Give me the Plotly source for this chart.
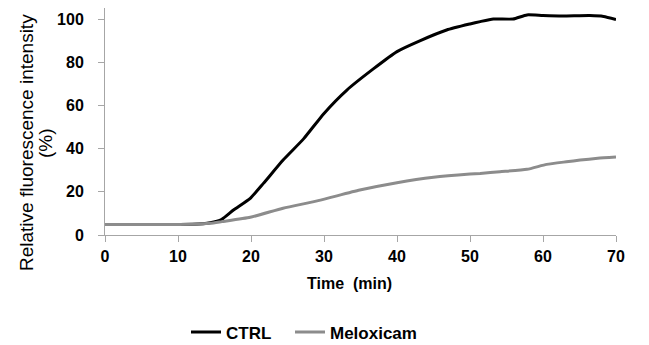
import plotly.graph_objects as go

time_ctrl = [0, 5, 10, 12, 14.4, 16, 17.6, 19.9, 21.7, 24.4, 27.2, 30, 33.1, 36.8, 40, 43.2, 46.8,
             50, 51.4, 53.2, 55.9, 57.8, 60, 62.7, 66.4, 68.3, 70]
ctrl = [4.9, 4.9, 4.9, 4.95, 5.7, 7.3, 11.6, 17, 23.9, 34.7, 44.5, 56.3, 67, 77, 84.9, 90, 94.9,
        97.7, 98.8, 100, 100, 101.9, 101.6, 101.4, 101.6, 101.2, 99.8]

time_melox = [0, 5, 10, 12, 14.4, 16, 19.9, 24.4, 29.2, 34.9, 40, 45, 50, 51.4, 54.1, 57.8, 60.5,
              63.2, 65.1, 67.5, 70]
melox = [4.9, 4.9, 4.9, 4.95, 5.4, 6.2, 8.2, 12.4, 15.9, 20.8, 24.2, 26.7, 28.2, 28.5, 29.3, 30.4,
         32.7, 33.9, 34.7, 35.5, 36.1]

x_ticks = [0, 10, 20, 30, 40, 50, 60, 70]
y_ticks = [0, 20, 40, 60, 80, 100]

FONT = "Liberation Sans, Arial, sans-serif"

# page has an 8px body margin: figure drawn at (8, 8)
OFF = 8
W, H = 649 - OFF, 345 - OFF
PL, PR, PT, PB = 105, 616, 8, 235          # plot area in page px
PW, PH = PR - PL, PB - PT


def px(xp):
    return (xp - PL) / PW


def py(yp):
    return (PB - yp) / PH


fig = go.Figure()
fig.add_trace(go.Scatter(x=time_ctrl, y=ctrl, mode="lines", name="CTRL", legend="legend",
                         line=dict(color="#000000", width=3, shape="spline", smoothing=0.5)))
fig.add_trace(go.Scatter(x=time_melox, y=melox, mode="lines", name="Meloxicam", legend="legend2",
                         line=dict(color="#8c8c8c", width=3, shape="spline", smoothing=0.5)))

leg_y = 1 - (332.5 - OFF) / H
leg_common = dict(orientation="h", yref="container", y=leg_y, xanchor="left", yanchor="middle",
                  font=dict(family=FONT, size=17, color="#000000", weight="bold"))

fig.update_layout(
    width=W, height=H,
    margin=dict(l=PL - OFF, r=649 - PR, t=PT - OFF, b=345 - PB, autoexpand=False),
    plot_bgcolor="white", paper_bgcolor="white",
    font=dict(family=FONT, size=16, color="#000000"),
    showlegend=True,
    legend=dict(x=px(186), **leg_common),
    legend2=dict(x=px(290), **leg_common),
    xaxis=dict(range=[0, 70], tickvals=x_ticks, ticktext=[str(v) for v in x_ticks],
               showgrid=False, zeroline=False, showline=True, linecolor="#a6a6a6", linewidth=1,
               ticks="outside", ticklen=6, tickcolor="#a6a6a6", automargin=False,
               ticklabelstandoff=1,
               tickfont=dict(family=FONT, size=16, weight="bold")),
    yaxis=dict(range=[0, (PB - PT) / 2.16], tickvals=y_ticks, ticktext=[str(v) for v in y_ticks],
               showgrid=False, zeroline=False, showline=True, linecolor="#a6a6a6", linewidth=1,
               ticks="outside", ticklen=6, tickcolor="#a6a6a6", automargin=False,
               ticklabelstandoff=11,
               tickfont=dict(family=FONT, size=16, weight="bold")),
)

fig.add_annotation(text="Relative fluorescence intensity", textangle=-90,
                   xref="paper", yref="paper", x=px(26), y=py(143),
                   xanchor="center", yanchor="middle",
                   showarrow=False, font=dict(family=FONT, size=19, color="#000000"))
fig.add_annotation(text="(%)", textangle=-90,
                   xref="paper", yref="paper", x=px(45), y=py(143),
                   xanchor="center", yanchor="middle",
                   showarrow=False, font=dict(family=FONT, size=19, color="#000000"))
fig.add_annotation(text="<b>Time  (min)</b>",
                   xref="paper", yref="paper", x=px(349), y=py(283),
                   xanchor="center", yanchor="middle",
                   showarrow=False, font=dict(family=FONT, size=16, color="#000000"))

fig.write_html("out.html")
